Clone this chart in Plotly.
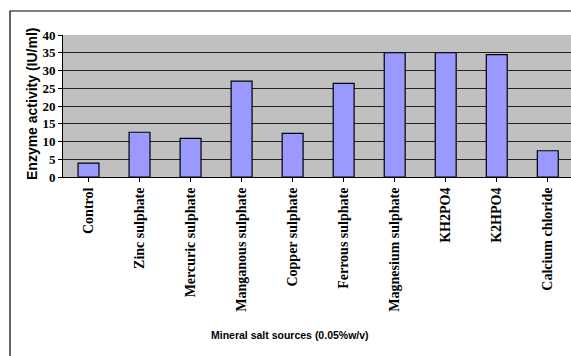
import plotly.graph_objects as go

categories = ["Control", "Zinc sulphate", "Mercuric sulphate", "Manganous sulphate",
              "Copper sulphate", "Ferrous sulphate", "Magnesium sulphate",
              "KH2PO4", "K2HPO4", "Calcium chloride"]
activity = [3.9, 12.6, 10.9, 27.0, 12.3, 26.4, 35.0, 35.0, 34.5, 7.4]
y_ticks = [0, 5, 10, 15, 20, 25, 30, 35, 40]

W, H = 571, 356
L, R, T, B = 63, 0, 35, 179
pw, ph = W - L - R, H - T - B

def px_x(x):
    return (x - L) / pw

def px_y(y):
    return (H - B - y) / ph

fig = go.Figure(go.Bar(
    x=list(range(len(categories))), y=activity,
    marker=dict(color="#9999FF", line=dict(color="#000000", width=1.2)),
    width=0.41,
))

fig.update_layout(
    width=W, height=H,
    margin=dict(l=L, r=R, t=T, b=B),
    paper_bgcolor="white", plot_bgcolor="#C0C0C0",
    showlegend=False,
    xaxis=dict(
        tickmode="array", tickvals=list(range(len(categories))), ticktext=categories,
        range=[-0.5, 9.455], tickangle=-90, ticks="outside", tickson="boundaries",
        ticklen=4, tickcolor="black", showline=True, linecolor="black", linewidth=1,
        showgrid=False, zeroline=False,
        tickfont=dict(family="Liberation Serif, Times New Roman, serif", size=14, color="black", weight="bold"),
    ),
    yaxis=dict(
        range=[0, 40], tickvals=y_ticks, ticks="outside", ticklen=4, tickcolor="black",
        showline=True, linecolor="black", linewidth=1,
        showgrid=True, gridcolor="#222222", gridwidth=1, zeroline=False,
        tickfont=dict(family="Liberation Serif, Times New Roman, serif", size=13, color="black", weight="bold"),
    ),
    shapes=[dict(type="rect", xref="paper", yref="paper",
                 x0=px_x(10), x1=px_x(600), y0=px_y(400), y1=px_y(11),
                 line=dict(color="black", width=1.2), fillcolor="rgba(0,0,0,0)", layer="below")],
    annotations=[
        dict(text="Enzyme activity (IU/ml)", xref="paper", yref="paper",
             x=px_x(32), y=px_y(104), xanchor="center", yanchor="middle", textangle=-90,
             showarrow=False,
             font=dict(family="Liberation Sans, Arial, sans-serif", size=14, color="black", weight="bold")),
        dict(text="Mineral salt sources (0.05%w/v)", xref="paper", yref="paper",
             x=px_x(290), y=px_y(335), xanchor="center", yanchor="middle",
             showarrow=False,
             font=dict(family="Liberation Sans Narrow, Liberation Sans, Arial, sans-serif", size=10.5, color="black", weight="bold")),
    ],
)

fig.write_html("out.html")
